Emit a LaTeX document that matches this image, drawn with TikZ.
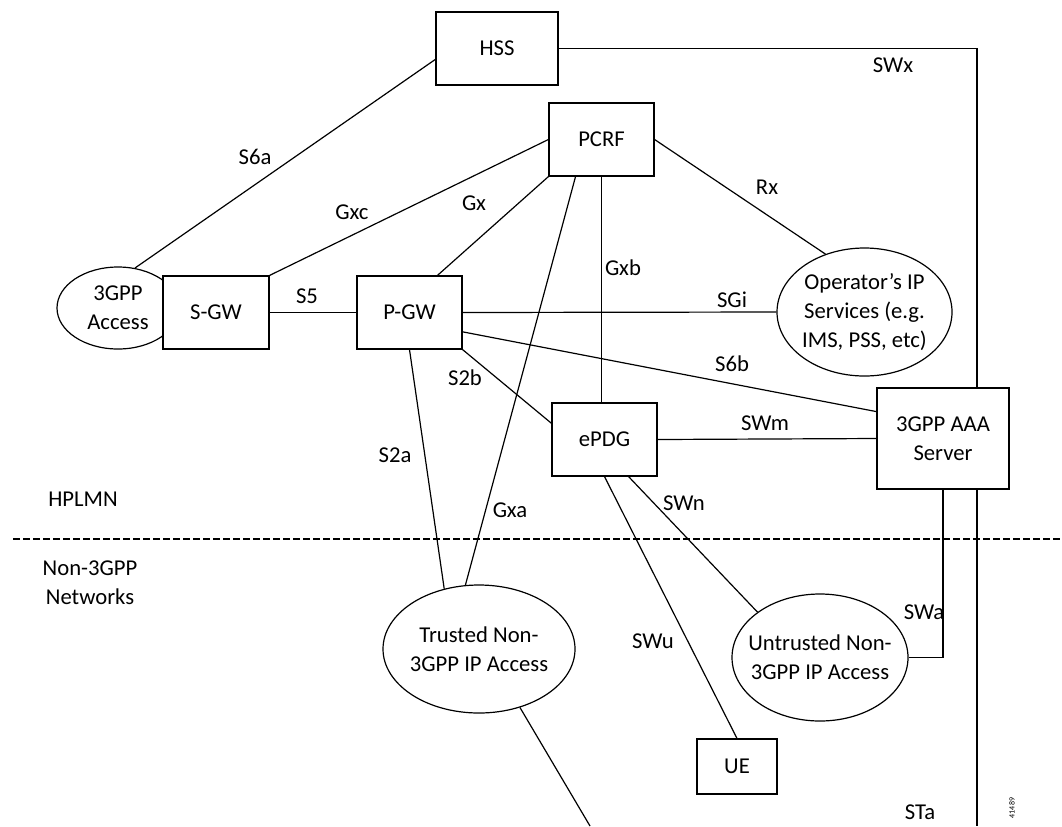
\documentclass[tikz,border=0pt]{standalone}
\usepackage{fontspec}
\setmainfont{Carlito}
\usetikzlibrary{shapes.geometric, calc}

\begin{document}
\begin{tikzpicture}[
    x=0.75pt, y=-0.75pt,
    font=\fontsize{17}{21.5}\selectfont,
    box/.style={rectangle, draw=black, line width=0.9pt, fill=white, align=center, inner sep=2pt},
    oval/.style={ellipse, draw=black, line width=0.9pt, fill=white, align=center, inner sep=-10pt},
    link/.style={draw=black, line width=0.9pt},
    lbl/.style={inner sep=1pt},
  ]
  \useasboundingbox (0,0) rectangle (1062,826);

  % network elements
  \node[oval, minimum width=91.5pt, minimum height=61.5pt]  (access) at (118,308)   {3GPP\\Access};
  \node[box, minimum width=91.5pt, minimum height=54.75pt]  (hss)    at (497,48.5)  {HSS};
  \node[box, minimum width=78.75pt, minimum height=54.75pt] (pcrf)   at (601.5,139.5) {PCRF};
  \node[box, minimum width=79.5pt, minimum height=54.75pt]  (sgw)    at (216,312.5) {S-GW};
  \node[box, minimum width=78.75pt, minimum height=54.75pt] (pgw)    at (409.5,312.5) {P-GW};
  \node[oval, minimum width=131.25pt, minimum height=96pt]  (ops)    at (864.5,312) {Operator’s IP\\Services (e.g.\\IMS, PSS, etc)};
  \node[box, minimum width=78.75pt, minimum height=54.75pt] (epdg)   at (604.5,439.5) {ePDG};
  \node[box, minimum width=99pt, minimum height=75.75pt]    (aaa)    at (943,438.5) {3GPP AAA\\Server};
  \node[oval, minimum width=144pt, minimum height=96pt]     (trust)  at (479,649)   {Trusted Non-\\3GPP IP Access};
  \node[oval, minimum width=132pt, minimum height=95.25pt]  (untr)   at (820,657.5) {Untrusted Non-\\3GPP IP Access};
  \node[box, minimum width=60pt, minimum height=41.25pt]    (ue)     at (737,766.5) {UE};

  \coordinate (stax)     at (977,826);
  \coordinate (trustout) at (590,826);
  \coordinate (divl)     at (13,539);
  \coordinate (divr)     at (1062,539);

  % reference points
  \draw[link] (access.67) -- (hss.190);
  \draw[link] (sgw.north east) -- (pcrf.west);
  \draw[link] (pgw.53) -- (pcrf.south west);
  \draw[link] (sgw.east) -- (pgw.west);
  \draw[link] (pcrf.south) -- (pcrf.south |- epdg.north);
  \draw[link] (pcrf.east) -- (ops.124);
  \draw[link] (pgw.east) -- (ops.west);
  \draw[link] (pgw.-20) -- (aaa.158);
  \draw[link] (pgw.south east) -- (epdg.163);
  \draw[link] (epdg.east) -- (aaa.west);
  \draw[link] (pgw.south) -- (trust.120);
  \draw[link] (pcrf.235) -- (trust.102);
  \draw[link] (trust.-55) -- (trustout);
  \draw[link] (epdg.-57) -- (untr.144);
  \draw[link] (epdg.south) -- (ue.north);
  \draw[link] (aaa.south) |- (untr.east);
  \draw[link] (hss.east) -| (aaa.north -| stax);
  \draw[link] (aaa.south -| stax) -- (stax);
  \draw[link, dash pattern=on 5pt off 2.5pt] (divl) -- (divr);

  % interface names
  \node[lbl] (lS6a) at (255,157) {S6a};
  \node[lbl] (lGxc) at (352,212) {Gxc};
  \node[lbl] (lGx)  at (474,203) {Gx};
  \node[lbl] (lS5)  at (307,296) {S5};
  \node[lbl] (lSWx) at (893,65)  {SWx};
  \node[lbl] (lRx)  at (767,187) {Rx};
  \node[lbl] (lGxb) at (623,268) {Gxb};
  \node[lbl] (lSGi) at (732,300) {SGi};
  \node[lbl] (lS6b) at (732,364) {S6b};
  \node[lbl] (lS2b) at (465,378) {S2b};
  \node[lbl] (lSWm) at (765,423) {SWm};
  \node[lbl] (lS2a) at (395,455) {S2a};
  \node[lbl] (lGxa) at (510,510) {Gxa};
  \node[lbl] (lSWn) at (684,503) {SWn};
  \node[lbl] (lSWu) at (653,641) {SWu};
  \node[lbl] (lSWa) at (924,612) {SWa};
  \node[lbl] (lSTa) at (920,812) {STa};

  % domains
  \node[lbl] (hplmn) at (83,499) {HPLMN};
  \node[lbl, align=center] (non3gpp) at (90,583) {Non-3GPP\\Networks};
  \node[rotate=90, inner sep=0pt, font=\fontsize{6}{7}\selectfont] (figid) at (1012,808) {41489};
\end{tikzpicture}
\end{document}
